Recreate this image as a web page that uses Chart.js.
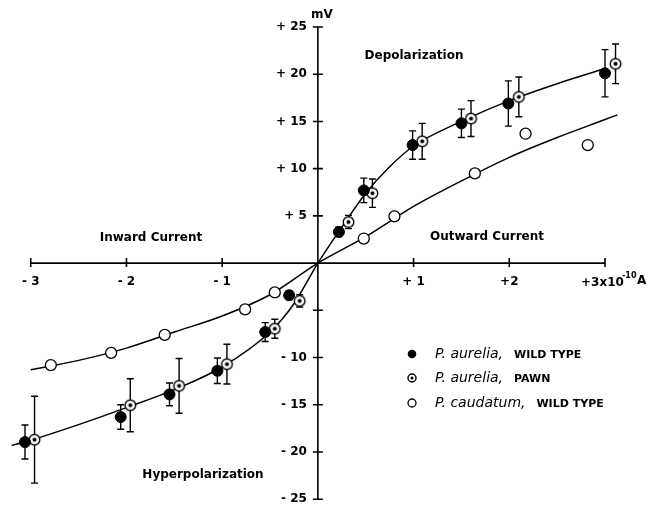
<!DOCTYPE html>
<html>
<head>
<meta charset="utf-8">
<script src="https://cdn.jsdelivr.net/npm/chart.js@4.4.1/dist/chart.umd.min.js"></script>
<style>
  html, body { margin: 0; padding: 0; background: #fff; }
</style>
</head>
<body>
<canvas id="iv-chart" width="648" height="506"></canvas>
<script>
// ==========================================
// A. DATA (x in 10^-10 A, y in mV)
// ==========================================
const wildX   = [-3.06, -2.06, -1.55, -1.05, -0.55, -0.30, 0.22, 0.48, 0.99, 1.50, 1.99, 3.00];
const wildY   = [-18.95, -16.3, -13.9, -11.4, -7.3, -3.4, 3.3, 7.7, 12.5, 14.8, 16.9, 20.1];
const wildErr = [1.8, 1.3, 1.2, 1.35, 1.0, 0.45, 0.5, 1.3, 1.5, 1.5, 2.4, 2.5];

const pawnX   = [-2.96, -1.96, -1.45, -0.95, -0.45, -0.19, 0.32, 0.57, 1.09, 1.60, 2.10, 3.11];
const pawnY   = [-18.7, -15.05, -13.0, -10.7, -6.95, -4.0, 4.35, 7.4, 12.9, 15.3, 17.6, 21.1];
const pawnErr = [4.6, 2.8, 2.9, 2.1, 1.0, 0.65, 0.7, 1.5, 1.9, 1.9, 2.1, 2.1];

const caudX = [-2.79, -2.16, -1.60, -0.76, -0.45, 0.48, 0.80, 1.64, 2.17, 2.82];
const caudY = [-10.8, -9.5, -7.6, -4.9, -3.1, 2.6, 4.95, 9.5, 13.7, 12.5];

// hand-drawn fit curves
const fitAureliaX = [-3.2, -3, -2.5, -2, -1.5, -1, -0.5, -0.25, 0, 0.25, 0.5, 0.75, 1, 1.5, 2, 2.5, 3];
const fitAureliaY = [-19.3, -18.75, -17.1, -15.3, -13.4, -11.0, -7.3, -4.3, 0, 3.8, 7.4, 10.2, 12.4, 15.0, 17.2, 19.0, 20.6];
const fitCaudX = [-3, -2.5, -2, -1.5, -1, -0.5, 0, 0.5, 1, 1.5, 2, 2.5, 3, 3.13];
const fitCaudY = [-11.3, -10.3, -9.0, -7.3, -5.6, -3.35, 0, 2.8, 6.0, 8.7, 11.2, 13.3, 15.2, 15.7];

const xTicks = [-3, -2, -1, 0, 1, 2, 3];
const yTicks = [-25, -20, -15, -10, -5, 0, 5, 10, 15, 20, 25];
const xTickLabels = ['- 3', '- 2', '- 1', '', '+ 1', '+2', ''];
const yTickLabels = ['- 25', '- 20', '- 15', '- 10', '', '', '+ 5', '+ 10', '+ 15', '+ 20', '+ 25'];

const legendNames = ['P. aurelia,', 'P. aurelia,', 'P. caudatum,'];
const legendTags  = ['WILD TYPE', 'PAWN', 'WILD TYPE'];

const FONT = '"DejaVu Sans", sans-serif';

function pts(xs, ys) {
    return xs.map((x, i) => ({ x: x, y: ys[i] }));
}

// open circle with a dot in the middle (pawn marker)
function pawnIcon(r) {
    const s = Math.ceil(r * 2 + 4);
    const c = document.createElement('canvas');
    c.width = s; c.height = s;
    const g = c.getContext('2d');
    g.beginPath();
    g.arc(s / 2, s / 2, r, 0, Math.PI * 2);
    g.fillStyle = '#fff'; g.fill();
    g.lineWidth = 1.4; g.strokeStyle = '#000'; g.stroke();
    g.beginPath();
    g.arc(s / 2, s / 2, r * 0.38, 0, Math.PI * 2);
    g.fillStyle = '#000'; g.fill();
    return c;
}

// ==========================================
// B. PLUGINS
// ==========================================
const crossAxes = {
    id: 'crossAxes',
    beforeDatasetsDraw(chart) {
        const { ctx, scales: { x, y } } = chart;
        const x0 = x.getPixelForValue(0), y0 = y.getPixelForValue(0);
        ctx.save();
        ctx.strokeStyle = '#000';
        ctx.lineWidth = 1.6;
        ctx.beginPath();
        ctx.moveTo(x.getPixelForValue(xTicks[0]), y0);
        ctx.lineTo(x.getPixelForValue(xTicks[xTicks.length - 1]), y0);
        ctx.moveTo(x0, y.getPixelForValue(yTicks[yTicks.length - 1]));
        ctx.lineTo(x0, y.getPixelForValue(yTicks[0]));
        xTicks.forEach(v => {
            if (v === 0) return;
            const px = x.getPixelForValue(v);
            ctx.moveTo(px, y0 - 5); ctx.lineTo(px, y0 + 4);
        });
        yTicks.forEach(v => {
            if (v === 0) return;
            const py = y.getPixelForValue(v);
            ctx.moveTo(x0 - 5, py); ctx.lineTo(x0 + 5, py);
        });
        ctx.stroke();

        // tick labels
        ctx.fillStyle = '#000';
        ctx.font = 'bold 12px ' + FONT;
        ctx.textBaseline = 'middle';
        ctx.textAlign = 'center';
        xTicks.forEach((v, i) => ctx.fillText(xTickLabels[i], x.getPixelForValue(v), y0 + 19));
        ctx.textAlign = 'right';
        yTicks.forEach((v, i) => ctx.fillText(yTickLabels[i], x0 - 11, y.getPixelForValue(v)));
        ctx.restore();
    }
};

const errorBars = {
    id: 'errorBars',
    beforeDatasetsDraw(chart) {
        const { ctx, scales: { x, y } } = chart;
        ctx.save();
        ctx.strokeStyle = '#000';
        ctx.lineWidth = 1.4;
        [[wildX, wildY, wildErr], [pawnX, pawnY, pawnErr]].forEach(([xs, ys, es]) => {
            xs.forEach((v, i) => {
                const px = x.getPixelForValue(v);
                const top = y.getPixelForValue(ys[i] + es[i]);
                const bot = y.getPixelForValue(ys[i] - es[i]);
                ctx.beginPath();
                ctx.moveTo(px, top); ctx.lineTo(px, bot);
                ctx.moveTo(px - 3.5, top); ctx.lineTo(px + 3.5, top);
                ctx.moveTo(px - 3.5, bot); ctx.lineTo(px + 3.5, bot);
                ctx.stroke();
            });
        });
        ctx.restore();
    }
};

const captions = {
    id: 'captions',
    afterDraw(chart) {
        const { ctx } = chart;
        ctx.save();
        ctx.fillStyle = '#000';
        ctx.textBaseline = 'middle';
        ctx.textAlign = 'center';
        ctx.font = 'bold 12px ' + FONT;
        ctx.fillText('Depolarization', 414, 56);
        ctx.fillText('Outward Current', 487, 237);
        ctx.fillText('Inward Current', 151, 238);
        ctx.fillText('Hyperpolarization', 203, 475);

        ctx.font = 'bold 12px ' + FONT;
        ctx.fillText('mV', 322, 15);

        // +3x10^-10 A label at the end of the current axis
        ctx.textAlign = 'left';
        ctx.font = 'bold 12px ' + FONT;
        ctx.fillText('+3x10', 581, 283);
        ctx.font = 'bold 8px ' + FONT;
        ctx.fillText('-10', 622, 276);
        ctx.font = 'bold 12px ' + FONT;
        ctx.fillText('A', 637, 281);

        // legend
        const rowY = [354, 378, 403];
        rowY.forEach((ry, i) => {
            if (i === 0) {
                ctx.beginPath(); ctx.arc(412, ry, 4.3, 0, Math.PI * 2); ctx.fill();
            } else if (i === 1) {
                ctx.drawImage(pawnIcon(4), 412 - 6, ry - 6);
            } else {
                ctx.beginPath(); ctx.arc(412, ry, 4, 0, Math.PI * 2);
                ctx.lineWidth = 1.3; ctx.strokeStyle = '#000'; ctx.stroke();
            }
            ctx.font = 'italic 14px ' + FONT;
            ctx.fillText(legendNames[i], 435, ry);
            const w = ctx.measureText(legendNames[i]).width;
            ctx.font = 'bold 11px ' + FONT;
            ctx.fillText(legendTags[i], 435 + w + 11, ry + 1);
        });
        ctx.restore();
    }
};

// ==========================================
// C. CHART
// ==========================================
const ctxIV = document.getElementById('iv-chart').getContext('2d');
const ivChart = new Chart(ctxIV, {
    type: 'scatter',
    data: {
        datasets: [
            {
                label: 'fit aurelia',
                data: pts(fitAureliaX, fitAureliaY),
                showLine: true,
                borderColor: '#000',
                borderWidth: 1.5,
                pointRadius: 0,
                cubicInterpolationMode: 'monotone',
                order: 3
            },
            {
                label: 'fit caudatum',
                data: pts(fitCaudX, fitCaudY),
                showLine: true,
                borderColor: '#000',
                borderWidth: 1.5,
                pointRadius: 0,
                cubicInterpolationMode: 'monotone',
                order: 3
            },
            {
                label: 'P. aurelia, wild type',
                data: pts(wildX, wildY),
                pointRadius: 5.5,
                pointBackgroundColor: '#000',
                pointBorderColor: '#000',
                order: 1
            },
            {
                label: 'P. aurelia, pawn',
                data: pts(pawnX, pawnY),
                pointStyle: pawnIcon(5.3),
                order: 1
            },
            {
                label: 'P. caudatum, wild type',
                data: pts(caudX, caudY),
                pointRadius: 5.5,
                pointBackgroundColor: '#fff',
                pointBorderColor: '#000',
                pointBorderWidth: 1.3,
                order: 1
            }
        ]
    },
    options: {
        responsive: false,
        animation: false,
        devicePixelRatio: 1,
        layout: { padding: { left: 6, right: 9.5, top: 27, bottom: 4 } },
        plugins: { legend: { display: false }, tooltip: { enabled: false } },
        scales: {
            x: {
                type: 'linear',
                min: -3.25,
                max: 3.35,
                position: { y: 0 },
                grid: { display: false, drawTicks: false },
                border: { display: false },
                ticks: { display: false }
            },
            y: {
                type: 'linear',
                min: -25,
                max: 25,
                position: { x: 0 },
                grid: { display: false, drawTicks: false },
                border: { display: false },
                ticks: { display: false }
            }
        }
    },
    plugins: [crossAxes, errorBars, captions]
});
</script>
</body>
</html>
